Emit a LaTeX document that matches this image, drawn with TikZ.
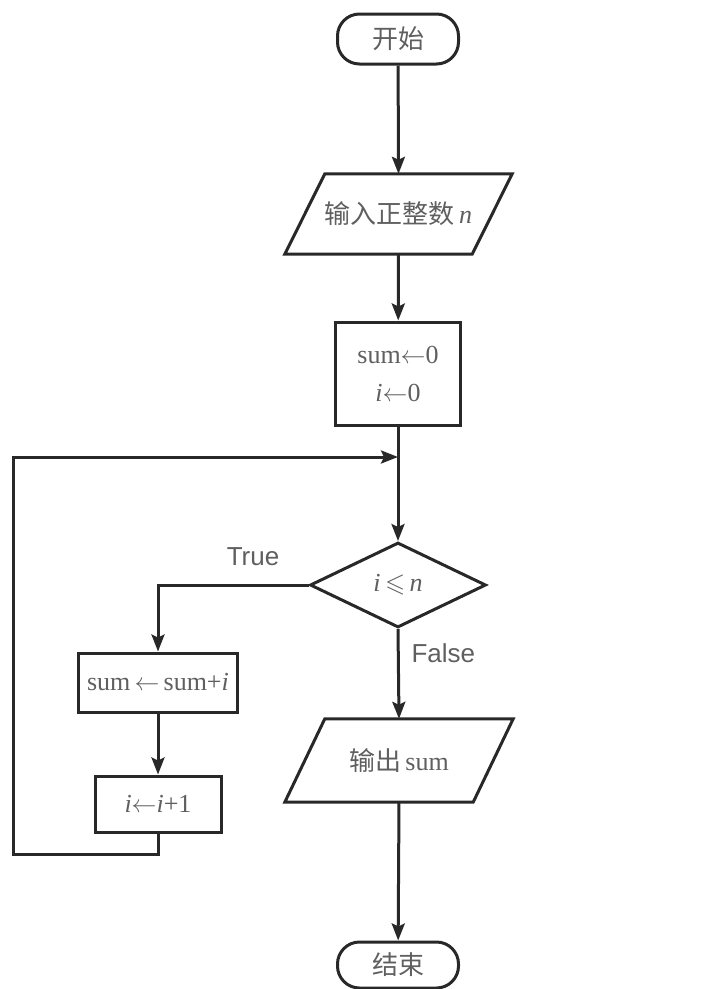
\documentclass[tikz,border=0pt]{standalone}
\usepackage{fontspec}
\usepackage{amssymb}
\setmainfont{Liberation Serif}
\newfontfamily\cjk{Noto Sans CJK SC}
\newfontfamily\lsans{Liberation Sans}
\usetikzlibrary{shapes.geometric,arrows.meta,calc}
\definecolor{ln}{RGB}{40,40,40}
\definecolor{tx}{RGB}{95,95,95}
\begin{document}
\begin{tikzpicture}[x=1pt,y=-1pt,
  base/.style={draw=ln, line width=3pt, text=tx, font=\fontsize{26}{38}\selectfont, inner sep=0pt, align=center},
  term/.style={base, rounded corners=22pt, minimum width=121pt},
  procbox/.style={base, rectangle},
  dec/.style={base, diamond, minimum width=176pt, minimum height=85pt},
  iobox/.style={text=tx, font=\fontsize{26}{38}\selectfont, inner sep=0pt, minimum width=187pt, align=center},
  pline/.style={draw=ln, line width=3pt, line join=miter},
  flow/.style={draw=ln, line width=3pt, -{Stealth[length=17pt,width=13pt,inset=3pt]}},
  lbl/.style={text=tx, font=\lsans\fontsize{26}{30}\selectfont}]
\useasboundingbox (0,0) rectangle (717,989);

\node[term, minimum height=50pt] (start) at (398,39) {\cjk 开始};
\node[iobox, minimum height=80pt] (in) at (398.5,214) {{\cjk 输入正整数}\,\textit{n}};
\draw[pline] ($(in.south west)+(-20,0)$) -- ($(in.north west)+(20,0)$) -- ($(in.north east)+(20,0)$) -- ($(in.south east)+(-20,0)$) -- cycle;
\node[procbox, minimum width=125pt, minimum height=103pt] (init) at (398,373.5) {sum$\leftarrow$0\\\textit{i}$\leftarrow$0};
\coordinate (merge) at (398,457);
\node[dec] (cond) at (398,585) {\textit{i}\,$\leqslant$\,\textit{n}};
\node[procbox, minimum width=159pt, minimum height=59pt] (add) at (158,682.5) {sum$\,\leftarrow\,$sum+\textit{i}};
\node[procbox, minimum width=126pt, minimum height=56pt] (inc) at (158,804) {\textit{i}$\leftarrow$\textit{i}+1};
\node[iobox, minimum height=83pt, minimum width=188pt] (out) at (399,760.5) {{\cjk 输出}\,sum};
\draw[pline] ($(out.south west)+(-20,0)$) -- ($(out.north west)+(20,0)$) -- ($(out.north east)+(20,0)$) -- ($(out.south east)+(-20,0)$) -- cycle;
\node[term, minimum height=46pt] (stop) at (398,965) {\cjk 结束};
\coordinate (lb) at (13,854);

\node[lbl] (tl) at (253,557) {True};
\node[lbl, anchor=west] (fl) at (408,653) {False};

\draw[flow] (start) -- (in.north);
\draw[flow] (in.south) -- (init);
\draw[flow] (init) -- (cond);
\draw[flow] (cond.west) -| (add.north);
\draw[flow] (add) -- (inc);
\draw[flow] (inc.south) |- (lb) |- (merge);
\draw[flow] (cond.south) -- (out.north);
\draw[flow] (out.south) -- (stop);
\end{tikzpicture}
\end{document}
